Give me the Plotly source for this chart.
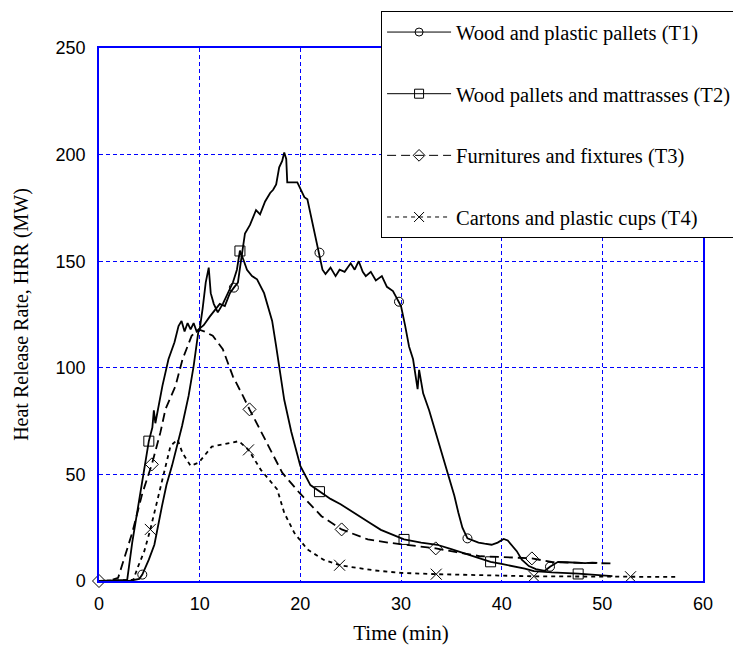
import plotly.graph_objects as go

# ---------------- data ----------------
t1_time = [0, 3.0, 4.0, 4.3, 4.95, 5.5, 6.25, 6.7, 7.25, 7.8, 8.25, 8.9, 9.4, 9.9,
           10.4, 11.0, 11.5, 12.0, 12.5, 13.0, 13.4, 13.8, 14.1, 14.5, 15.0, 15.6,
           16.0, 16.5, 17.0, 17.3, 17.6, 17.9, 18.2, 18.4, 18.6, 18.7, 19.2, 19.7,
           20.0, 20.4, 20.7, 21.2, 21.9, 22.2, 22.5, 23.0, 23.5, 23.9, 24.4, 25.0,
           25.4, 25.8, 26.2, 26.5, 27.0, 27.5, 28.1, 28.6, 29.2, 29.8, 30.0, 30.4,
           30.8, 31.2, 31.5, 31.65, 31.8, 32.0, 32.2, 32.8, 33.3, 33.8, 34.3, 34.8,
           35.3, 35.7, 36.1, 36.6, 37.1, 37.7, 38.3, 39.0, 39.6, 40.2, 40.6, 41.0,
           41.5, 42.0, 42.7, 43.4, 44.3, 44.8, 45.2, 45.6, 46.5, 47.5, 48.3, 49.0, 49.5]
t1_hrr = [0, 0, 1, 3, 10, 17, 35, 45, 54, 64, 72.7, 86.8, 100.8, 118,
          120, 124, 127, 130, 129, 135, 137.6, 140, 150, 163, 167, 174,
          172, 178, 182, 183.5, 186, 194, 197, 201, 198, 187, 187, 187,
          184, 180, 179, 168, 154, 146, 144, 147, 143, 146, 145, 149,
          146, 150, 145, 143, 145, 141, 143, 138, 136, 131, 129, 120,
          110, 104, 95, 90, 99, 93, 88, 80, 72, 63, 55, 48,
          40, 32, 25, 20, 19, 18, 17.5, 17, 18, 19.7, 19, 17,
          14, 10, 7, 5.6, 4.8, 6.7, 8, 9, 8.8, 8.5, 8.4, 8.6, 8.5]

t2_time = [0, 2.8, 3.3, 3.9, 4.4, 4.95, 5.3, 5.45, 5.6, 6.3, 6.9, 7.5, 7.9, 8.2,
           8.5, 8.8, 9.1, 9.4, 9.7, 10.0, 10.3, 10.6, 10.9, 11.1, 11.4, 11.8,
           12.3, 12.8, 13.3, 13.7, 14.0, 14.4, 14.7, 15.2, 15.7, 16.4, 16.8, 17.2,
           17.6, 17.9, 18.4, 19.1, 20.0, 21.0, 21.9, 23.0, 24.0, 25.6, 27.0, 28.0,
           29.2, 30.3, 32.0, 33.6, 35.0, 36.2, 37.5, 38.9, 40.0, 41.2, 42.3, 43.2,
           45.0, 47.6, 49.5, 51.0]
t2_hrr = [0, 0.5, 18, 35, 50, 65.6, 72, 80, 74, 91.5, 104, 112, 119.6, 122,
          117, 121, 118, 121, 117, 118, 128, 140, 147, 135, 130, 126,
          130, 135, 140, 146, 155, 150, 146, 143, 141.5, 135, 128, 122,
          110, 101, 85, 70, 54, 45, 42, 38.5, 36, 31, 27, 24,
          21.5, 19.5, 18, 17, 15, 13.2, 11, 9, 8, 7, 5.8, 4.6,
          4, 3.5, 2.8, 2.3]

t3_time = [0, 1.0, 1.9, 2.6, 3.3, 4.3, 5.25, 6.1, 6.6, 7.6, 8.3, 9.2, 9.9, 10.5,
           11.3, 12.3, 13.3, 14.3, 14.95, 16.5, 18.2, 19.9, 22.1, 24.1, 26.7, 28.9,
           31.9, 33.45, 35.5, 37.9, 41.2, 43.0, 45.1, 48.0, 51.1]
t3_hrr = [0, 0, 1.5, 12, 22.6, 41, 54.7, 69.7, 80.5, 91.5, 104, 115, 118, 117,
          115, 108.7, 96, 86.8, 80.5, 66.4, 50.8, 41.4, 30.4, 24.2, 19.5, 17.9,
          16.3, 15.3, 13.5, 11.6, 11, 10.6, 8.8, 8.5, 8.2]

t4_time = [0, 3.4, 3.9, 4.5, 5.1, 6.1, 7.1, 7.8, 8.3, 9.1, 9.9, 11.2, 12.3, 13.9,
           14.85, 16.1, 17.7, 18.4, 19.4, 20.7, 22.3, 23.9, 27.3, 30.0, 33.5, 38.0,
           43.2, 48.0, 52.8, 57.4]
t4_hrr = [0, 0.5, 7, 14, 24.2, 44.5, 63.3, 66.4, 60, 54, 55.5, 63, 64, 65.6,
          61.5, 52, 43, 32, 22.6, 14.8, 10, 7.4, 5, 3.8, 3.2, 2.6,
          2.2, 2.1, 2.0, 1.9]

# marker positions along each curve
t1_mk_time = [4.3, 13.4, 21.9, 29.8, 36.6, 44.8]
t1_mk_hrr = [3, 137.6, 154, 131, 20, 6.7]
t2_mk_time = [4.95, 14.0, 21.9, 30.3, 38.9, 47.6]
t2_mk_hrr = [65.6, 154.8, 41.9, 19.5, 9, 3.3]
t3_mk_time = [0, 5.25, 14.95, 24.1, 33.45, 43.0]
t3_mk_hrr = [0, 54.7, 80.5, 24.2, 15.3, 10.6]
t4_mk_time = [5.1, 14.85, 23.9, 33.5, 43.2, 52.8]
t4_mk_hrr = [24.2, 61.5, 7.4, 3.2, 2.2, 2.0]

names = ["Wood and plastic pallets (T1)", "Wood pallets and mattrasses (T2)",
         "Furnitures and fixtures (T3)", "Cartons and plastic cups (T4)"]

x_ticks = [0, 10, 20, 30, 40, 50, 60]
y_ticks = [0, 50, 100, 150, 200, 250]

# ---------------- figure ----------------
series = [
    (t1_time, t1_hrr, t1_mk_time, t1_mk_hrr, "solid", "circle-open", 9),
    (t2_time, t2_hrr, t2_mk_time, t2_mk_hrr, "solid", "square-open", 10),
    (t3_time, t3_hrr, t3_mk_time, t3_mk_hrr, "9px,5px", "diamond-open", 10),
    (t4_time, t4_hrr, t4_mk_time, t4_mk_hrr, "4px,4px", "x-thin-open", 11),
]

fig = go.Figure()
for i, (tx, hy, mx, my, dash, sym, msize) in enumerate(series):
    fig.add_trace(go.Scatter(x=tx, y=hy, mode="lines",
                             line=dict(color="black", width=1.8, dash=dash),
                             showlegend=False, hoverinfo="skip"))
    fig.add_trace(go.Scatter(x=mx, y=my, mode="markers", cliponaxis=False,
                             marker=dict(symbol=sym, size=msize, color="black",
                                         line=dict(color="black", width=1)),
                             showlegend=False, hoverinfo="skip"))
    fig.add_trace(go.Scatter(x=[None], y=[None], mode="lines+markers", name=names[i],
                             legendgroup=f"g{i}",
                             line=dict(color="black", width=1, dash=dash),
                             marker=dict(symbol=sym, size=msize - 1, color="black",
                                         line=dict(color="black", width=1))))

axis_common = dict(showline=True, linecolor="#0000ff", linewidth=1.5, mirror=True,
                   showgrid=True, gridcolor="#0000ff", gridwidth=1, griddash="4px,3px",
                   zeroline=False, ticks="", tickfont=dict(family="Liberation Sans",
                                                            size=18, color="black"))

fig.update_xaxes(range=[0, 60], tickvals=x_ticks, ticktext=[str(v) for v in x_ticks],
                 ticklabelstandoff=6,
                 title=dict(text="Time (min)", font=dict(family="Liberation Serif",
                                                          size=21, color="black"),
                            standoff=12),
                 **axis_common)
fig.update_yaxes(range=[0, 250], tickvals=y_ticks, ticktext=[str(v) for v in y_ticks],
                 ticklabelstandoff=8,
                 title=dict(text="Heat Release Rate, HRR (MW)",
                            font=dict(family="Liberation Serif", size=20, color="black"),
                            standoff=22),
                 **axis_common)

# the page adds an 8px body margin, so the margins are shifted by 8px
fig.update_layout(
    width=741, height=663,
    margin=dict(l=90.5, r=46, t=40, b=89.5, autoexpand=False),
    paper_bgcolor="white", plot_bgcolor="white",
    legend=dict(x=0.467, y=1.069, xanchor="left", yanchor="top",
                bgcolor="white", bordercolor="black", borderwidth=1,
                font=dict(family="Liberation Serif", size=20.5, color="black"),
                traceorder="grouped", tracegroupgap=32, itemwidth=64),
)

fig.write_html("out.html")
